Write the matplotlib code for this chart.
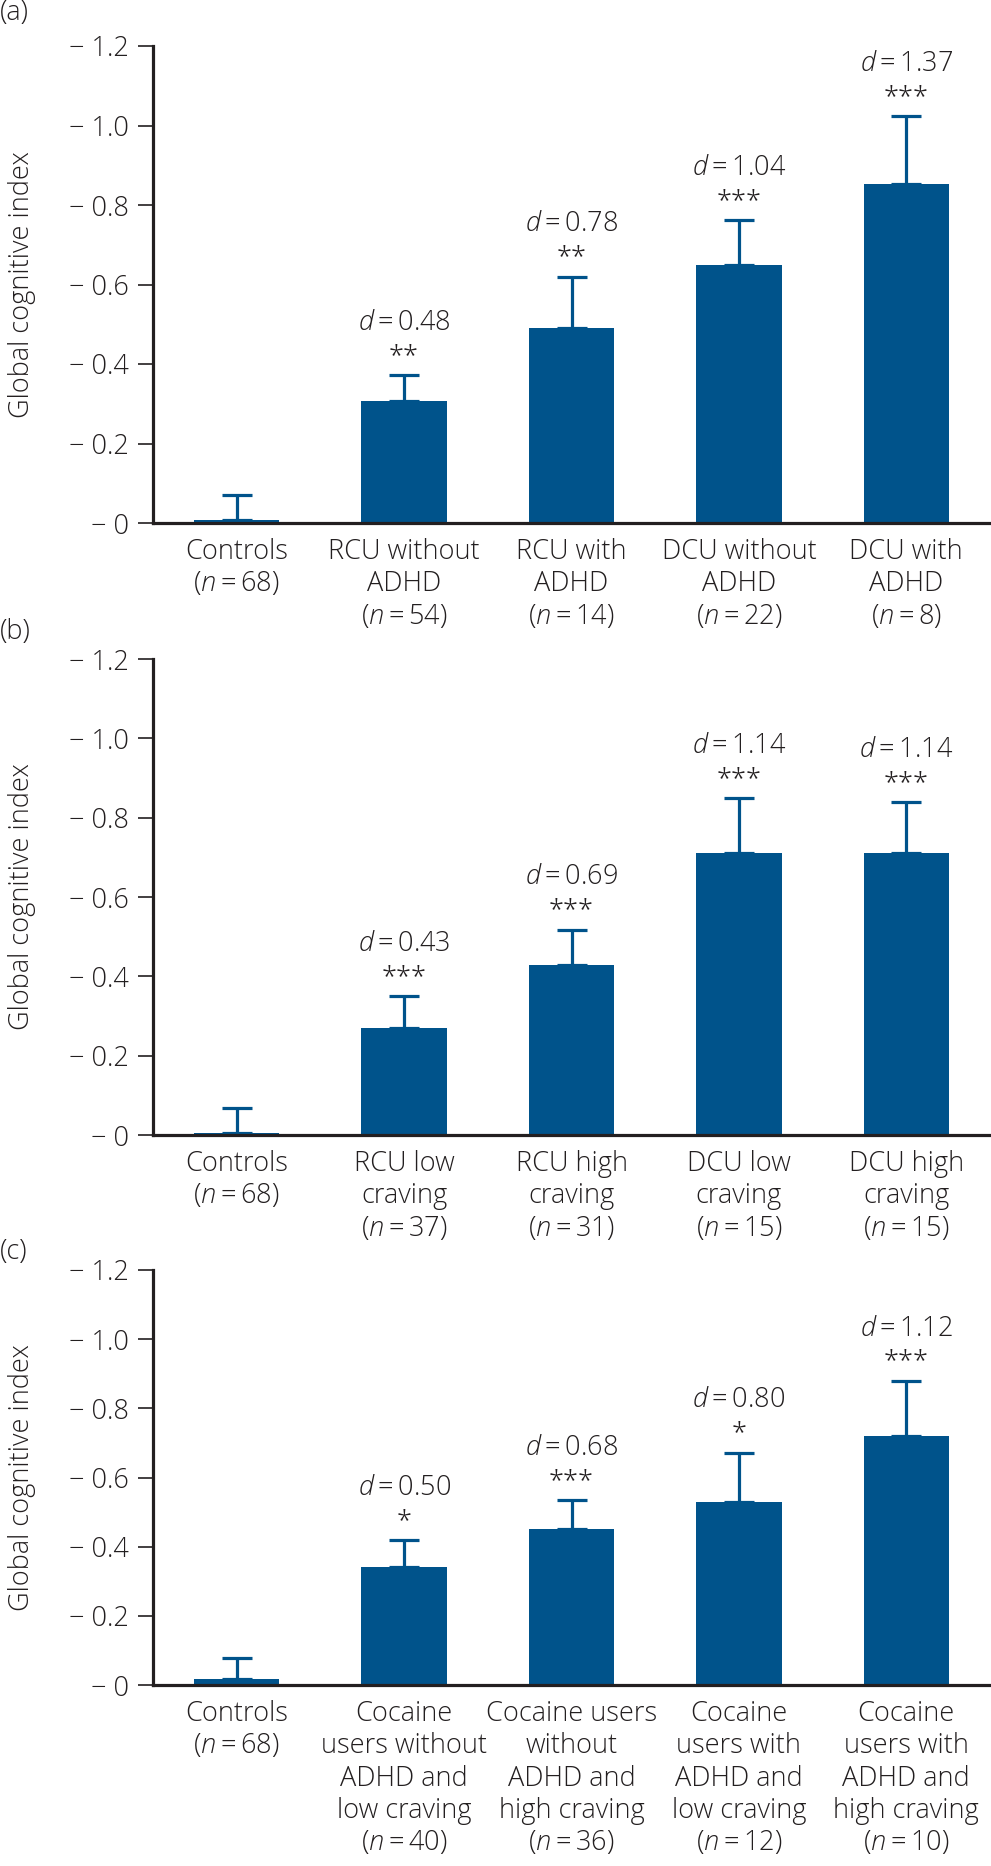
import matplotlib
matplotlib.use("Agg")
import matplotlib.pyplot as plt
from matplotlib.ticker import FixedLocator, FuncFormatter

plt.rcParams['font.family'] = ['Open Sans', 'DejaVu Sans']
plt.rcParams['font.weight'] = 'light'
plt.rcParams['mathtext.fontset'] = 'custom'
plt.rcParams['mathtext.rm'] = 'Open Sans:light'
plt.rcParams['mathtext.it'] = 'Open Sans:italic:light'
plt.rcParams['mathtext.bf'] = 'Open Sans:bold'

TEXT = '#231f20'
BLUE = '#00538b'

# ---------------- data ----------------
cats_a = ["Controls\n($n=68$)", "RCU without\nADHD\n($n=54$)", "RCU with\nADHD\n($n=14$)",
          "DCU without\nADHD\n($n=22$)", "DCU with\nADHD\n($n=8$)"]
means_a = [-0.007, -0.307, -0.490, -0.650, -0.854]
sem_a = [0.063, 0.066, 0.130, 0.112, 0.170]
d_a = ["", "0.48", "0.78", "1.04", "1.37"]
sig_a = ["", "**", "**", "***", "***"]

cats_b = ["Controls\n($n=68$)", "RCU low\ncraving\n($n=37$)", "RCU high\ncraving\n($n=31$)",
          "DCU low\ncraving\n($n=15$)", "DCU high\ncraving\n($n=15$)"]
means_b = [-0.004, -0.269, -0.429, -0.710, -0.710]
sem_b = [0.065, 0.082, 0.089, 0.140, 0.129]
d_b = ["", "0.43", "0.69", "1.14", "1.14"]
sig_b = ["", "***", "***", "***", "***"]

cats_c = ["Controls\n($n=68$)",
          "Cocaine\nusers without\nADHD and\nlow craving\n($n=40$)",
          "Cocaine users\nwithout\nADHD and\nhigh craving\n($n=36$)",
          "Cocaine\nusers with\nADHD and\nlow craving\n($n=12$)",
          "Cocaine\nusers with\nADHD and\nhigh craving\n($n=10$)"]
means_c = [-0.016, -0.340, -0.450, -0.528, -0.721]
sem_c = [0.062, 0.078, 0.084, 0.144, 0.159]
d_c = ["", "0.50", "0.68", "0.80", "1.12"]
sig_c = ["", "*", "***", "*", "***"]

yticks = [0, -0.2, -0.4, -0.6, -0.8, -1.0, -1.2]
panel_labels = ["(a)", "(b)", "(c)"]
ylabel = "Global cognitive index"

# ---------------- layout ----------------
W, H = 991, 1866
fig = plt.figure(figsize=(W / 100, H / 100), dpi=100)


def rect(left, right, top, bottom):
    return [left / W, 1 - bottom / H, (right - left) / W, (bottom - top) / H]


axes_px = [(153, 990, 46, 523), (153, 990, 659, 1135), (153, 990, 1270, 1685)]
label_y_px = [13, 632, 1252]

FS = 19.5


def fmt(v, pos):
    return "\u2212 " + ("0" if abs(v) < 1e-9 else f"{abs(v):.1f}")


panels = [(cats_a, means_a, sem_a, d_a, sig_a),
          (cats_b, means_b, sem_b, d_b, sig_b),
          (cats_c, means_c, sem_c, d_c, sig_c)]

for k, (cats, means, sems, ds, sigs) in enumerate(panels):
    l, r, t, b = axes_px[k]
    ax = fig.add_axes(rect(l, r, t, b))
    x = list(range(len(cats)))
    ax.bar(x, means, width=0.51, color=BLUE, zorder=2,
           yerr=[sems, [0] * len(sems)],
           error_kw=dict(ecolor=BLUE, elinewidth=2.3, capsize=11, capthick=2.3, zorder=1))
    ax.set_xlim(-0.5, 4.5)
    ax.set_ylim(0, -1.2)
    ax.yaxis.set_major_locator(FixedLocator(yticks))
    ax.yaxis.set_major_formatter(FuncFormatter(fmt))
    ax.set_xticks(x)
    ax.set_xticklabels(cats, fontsize=FS, color=TEXT, linespacing=1.2)
    ax.tick_params(axis='x', length=0, pad=11)
    ax.tick_params(axis='y', direction='out', length=10.5, width=1.2, color=TEXT,
                   labelsize=FS, labelcolor=TEXT, pad=7)
    for s in ['top', 'right']:
        ax.spines[s].set_visible(False)
    for s in ['left', 'bottom']:
        ax.spines[s].set_linewidth(2.3)
        ax.spines[s].set_color(TEXT)
    ax.spines['bottom'].set_zorder(3)

    for i in x:
        if not sigs[i]:
            continue
        cap = means[i] - sems[i]
        ax.annotate(sigs[i], xy=(i, cap), xytext=(0, 8.0), textcoords='offset points',
                    ha='center', va='baseline', fontsize=FS, color=TEXT)
        ax.annotate(f"$d={ds[i]}$", xy=(i, cap), xytext=(0, 32.5), textcoords='offset points',
                    ha='center', va='baseline', fontsize=FS, color=TEXT)

    fig.text(22 / W, 1 - ((t + b) / 2) / H, ylabel, rotation=90, ha='center', va='center',
             fontsize=FS, color=TEXT)
    fig.text(0, 1 - label_y_px[k] / H, panel_labels[k], ha='left', va='center',
             fontsize=FS, color=TEXT)

fig.savefig("out.png", dpi=100, facecolor='white')
